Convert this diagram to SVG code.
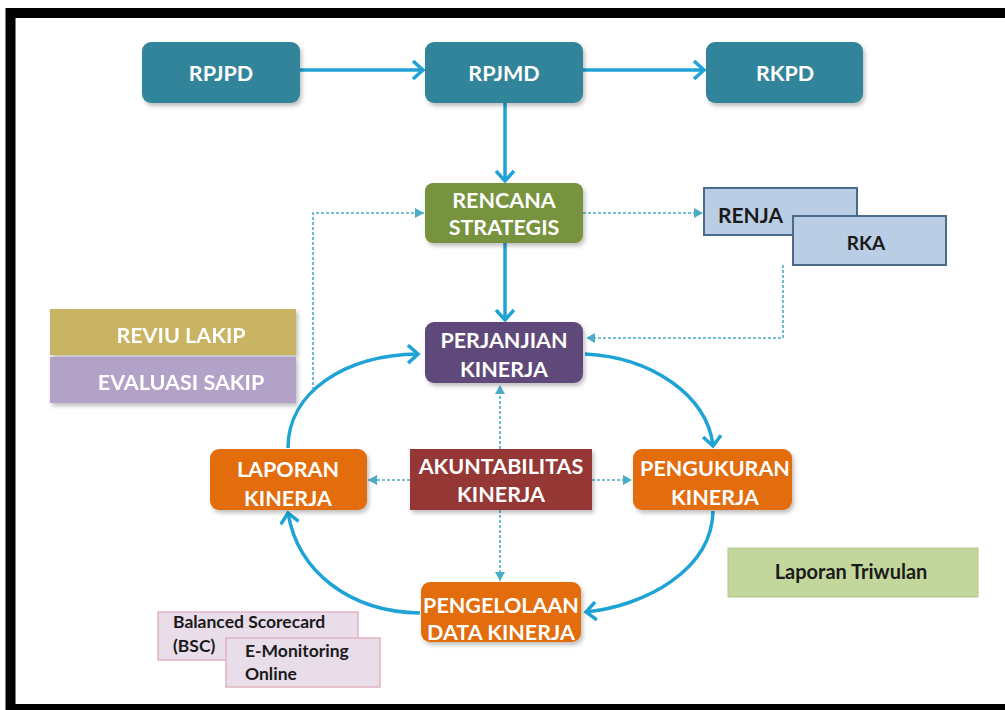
<svg xmlns="http://www.w3.org/2000/svg" width="1005" height="710" viewBox="0 0 1005 710">
<style>
.t{font-family:Lato,"Open Sans","Liberation Sans",sans-serif;font-weight:bold;font-size:21.5px;fill:#ffffff;text-anchor:middle}
.d{font-family:Lato,"Open Sans","Liberation Sans",sans-serif;font-weight:bold;fill:#1a1a1a}
.solid{fill:none;stroke:#1fa3d6;stroke-width:3.5}
.dash{fill:none;stroke:#4bacc6;stroke-width:1.6;stroke-dasharray:3 2}
</style>
<defs>
<marker id="chev" markerUnits="userSpaceOnUse" markerWidth="24" markerHeight="24" refX="12" refY="10" orient="auto">
<path d="M2,1 L12,10 L2,19" fill="none" stroke="#1fa3d6" stroke-width="3.5"/>
</marker>
<marker id="tri" markerUnits="userSpaceOnUse" markerWidth="12" markerHeight="12" refX="9" refY="5" orient="auto">
<path d="M0,0 L9,5 L0,10 Z" fill="#4bacc6"/>
</marker>
<filter id="sh" x="-10%" y="-10%" width="130%" height="140%">
<feDropShadow dx="2" dy="3" stdDeviation="2" flood-color="#000" flood-opacity="0.25"/>
</filter>
</defs>
<rect x="0" y="0" width="1005" height="710" fill="#ffffff"/>
<rect x="10.5" y="13" width="1010" height="696" fill="#ffffff" stroke="#000000" stroke-width="10"/>

<g id="connectors">
<line class="solid" x1="300" y1="70" x2="423" y2="70" marker-end="url(#chev)"/>
<line class="solid" x1="583" y1="70" x2="704" y2="70" marker-end="url(#chev)"/>
<line class="solid" x1="505" y1="103" x2="505" y2="181" marker-end="url(#chev)"/>
<line class="solid" x1="505" y1="243" x2="505" y2="320" marker-end="url(#chev)"/>
<path class="solid" d="M288,448 C288,392 345,355 418,354" marker-end="url(#chev)"/>
<path class="solid" d="M585,354 C650,357 708,395 713,446" marker-end="url(#chev)"/>
<path class="solid" d="M713,511 C712,570 645,606 586,612" marker-end="url(#chev)"/>
<path class="solid" d="M420,613 C350,612 298,572 288,513" marker-end="url(#chev)"/>
<line class="dash" x1="583" y1="213" x2="703" y2="213" marker-end="url(#tri)"/>
<polyline class="dash" points="313,390 313,213 424,213" marker-end="url(#tri)"/>
<polyline class="dash" points="783,265 783,338 586,338" marker-end="url(#tri)"/>
<line class="dash" x1="410" y1="480" x2="368" y2="480" marker-end="url(#tri)"/>
<line class="dash" x1="592" y1="480" x2="632" y2="480" marker-end="url(#tri)"/>
<line class="dash" x1="500" y1="449" x2="500" y2="385" marker-end="url(#tri)"/>
<line class="dash" x1="500" y1="510" x2="500" y2="581" marker-end="url(#tri)"/>
</g>

<g id="rpjpd"><rect x="142" y="42" width="158" height="61" rx="9" fill="#31849b" filter="url(#sh)"/><text class="t" x="221" y="81">RPJPD</text></g>
<g id="rpjmd"><rect x="425" y="42" width="158" height="61" rx="9" fill="#31849b" filter="url(#sh)"/><text class="t" x="504" y="81">RPJMD</text></g>
<g id="rkpd"><rect x="706" y="42" width="157" height="61" rx="9" fill="#31849b" filter="url(#sh)"/><text class="t" x="785" y="81">RKPD</text></g>

<g id="renstra"><rect x="425" y="183" width="158" height="60" rx="8" fill="#77933c" filter="url(#sh)"/><text class="t" x="504" y="208">RENCANA</text><text class="t" x="504" y="235">STRATEGIS</text></g>

<g id="renja"><rect x="704" y="188" width="153" height="47" fill="#b9cde5" stroke="#4a6b8c" stroke-width="2"/><text class="d" x="718" y="223" font-size="21">RENJA</text></g>
<g id="rka"><rect x="793" y="216" width="153" height="49" fill="#b9cde5" stroke="#4a6b8c" stroke-width="2"/><text class="d" x="866" y="250" font-size="19" text-anchor="middle">RKA</text></g>

<g id="perjanjian"><rect x="425" y="322" width="158" height="61" rx="9" fill="#5f497a" filter="url(#sh)"/><text class="t" x="504" y="348">PERJANJIAN</text><text class="t" x="504" y="377">KINERJA</text></g>

<g id="reviu" filter="url(#sh)"><rect x="50" y="309" width="246" height="46" fill="#c9b463"/><text class="t" x="181" y="343" fill="#fbf6dc">REVIU LAKIP</text></g>
<g id="evaluasi" filter="url(#sh)"><rect x="50" y="357" width="246" height="46" fill="#b3a2c7"/><text class="t" x="181" y="390">EVALUASI SAKIP</text></g>

<g id="laporan"><rect x="210" y="449" width="157" height="61" rx="9" fill="#e36c09" filter="url(#sh)"/><text class="t" x="288" y="477">LAPORAN</text><text class="t" x="288" y="506">KINERJA</text></g>
<g id="akuntabilitas"><rect x="410" y="449" width="182" height="61" fill="#953735" filter="url(#sh)"/><text class="t" x="501" y="474">AKUNTABILITAS</text><text class="t" x="501" y="502">KINERJA</text></g>
<g id="pengukuran"><rect x="633" y="449" width="159" height="61" rx="9" fill="#e36c09" filter="url(#sh)"/><text class="t" x="715" y="476">PENGUKURAN</text><text class="t" x="715" y="505">KINERJA</text></g>
<g id="pengelolaan"><rect x="421" y="582" width="160" height="60" rx="9" fill="#e36c09" filter="url(#sh)"/><text class="t" x="501" y="613">PENGELOLAAN</text><text class="t" x="501" y="640">DATA KINERJA</text></g>

<g id="triwulan"><rect x="728" y="548" width="250" height="49" fill="#c3d69b" stroke="#b4c98a" stroke-width="1"/><text class="d" x="851" y="579" font-size="20" text-anchor="middle">Laporan Triwulan</text></g>

<g id="bsc"><rect x="158" y="612" width="200" height="48" fill="#e8dde9" stroke="#e0b4c0" stroke-width="1.5"/><text class="d" x="173" y="628" font-size="17.5">Balanced Scorecard</text><text class="d" x="173" y="652" font-size="17.5">(BSC)</text></g>
<g id="emonitoring"><rect x="226" y="638" width="154" height="49" fill="#e8dde9" stroke="#e0b4c0" stroke-width="1.5"/><text class="d" x="245" y="657" font-size="17.5">E-Monitoring</text><text class="d" x="245" y="680" font-size="17.5">Online</text></g>
</svg>
